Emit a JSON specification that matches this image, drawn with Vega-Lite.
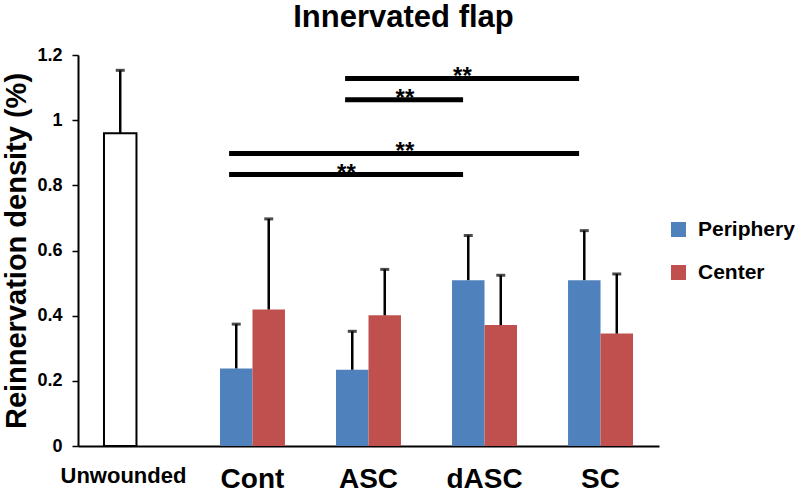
{
  "$schema": "https://vega.github.io/schema/vega-lite/v6.json",
  "width": 581,
  "height": 391,
  "autosize": "none",
  "padding": {"left": 78, "top": 55, "right": 141, "bottom": 47},
  "background": "white",
  "config": {"font": "Liberation Sans", "view": {"stroke": null}, "axis": {"grid": false}},
  "title": {"text": "Innervated flap", "fontSize": 31, "fontWeight": "bold", "color": "black", "anchor": "middle", "dx": 35, "offset": 12},
  "datasets": {
    "bars": [
      {"group": "Unwounded", "region": "Periphery", "kind": "unwounded", "value": 0.96, "err": 1.153},
      {"group": "Cont", "region": "Periphery", "kind": "wounded", "value": 0.238, "err": 0.374},
      {"group": "Cont", "region": "Center", "kind": "wounded", "value": 0.419, "err": 0.697},
      {"group": "ASC", "region": "Periphery", "kind": "wounded", "value": 0.234, "err": 0.352},
      {"group": "ASC", "region": "Center", "kind": "wounded", "value": 0.401, "err": 0.542},
      {"group": "dASC", "region": "Periphery", "kind": "wounded", "value": 0.509, "err": 0.646},
      {"group": "dASC", "region": "Center", "kind": "wounded", "value": 0.371, "err": 0.524},
      {"group": "SC", "region": "Periphery", "kind": "wounded", "value": 0.509, "err": 0.661},
      {"group": "SC", "region": "Center", "kind": "wounded", "value": 0.345, "err": 0.528}
    ],
    "sig": [
      {"from": "Cont", "to": "dASC", "y": 0.833, "label": "**", "mid": "ASC", "midType": "inband"},
      {"from": "Cont", "to": "SC", "y": 0.898, "label": "**", "mid": "ASC", "midType": "gap"},
      {"from": "ASC", "to": "dASC", "y": 1.063, "label": "**", "mid": "ASC", "midType": "gap"},
      {"from": "ASC", "to": "SC", "y": 1.128, "label": "**", "mid": "dASC", "midType": "inband"}
    ]
  },
  "layer": [
    {
      "data": {"name": "bars"},
      "mark": {"type": "bar", "strokeWidth": 2},
      "encoding": {
        "x": {
          "field": "group", "type": "nominal",
          "scale": {"domain": ["Unwounded", "Cont", "ASC", "dASC", "SC"], "paddingInner": 0.44, "paddingOuter": 0.224},
          "axis": {
            "title": null, "ticks": false, "labelAngle": 0, "labelPadding": 19,
            "labelFontWeight": "bold", "labelColor": "black",
            "labelFontSize": {"condition": {"test": "datum.value === 'Unwounded'", "value": 22}, "value": 28},
            "labelOffset": {"condition": {"test": "datum.value === 'Unwounded'", "value": -13}, "value": 0},
            "domainColor": "black", "domainWidth": 2
          }
        },
        "xOffset": {"field": "region", "type": "nominal", "scale": {"domain": ["Periphery", "Center"], "paddingInner": 0, "paddingOuter": 0}},
        "y": {
          "field": "value", "type": "quantitative",
          "scale": {"domain": [0, 1.2], "nice": false},
          "axis": {
            "title": "Reinnervation density (%)", "titleFontSize": 29, "titleFontWeight": "bold", "titleColor": "black", "titlePadding": 5,
            "values": [0, 0.2, 0.4, 0.6, 0.8, 1, 1.2], "format": "~g",
            "labelFontSize": 18, "labelFontWeight": "bold", "labelColor": "black", "labelPadding": 10,
            "tickSize": 6, "tickColor": "black", "tickWidth": 1.5,
            "domainColor": "black", "domainWidth": 2
          }
        },
        "color": {
          "condition": {"test": "datum.kind === 'unwounded'", "value": "white"},
          "field": "region", "type": "nominal",
          "scale": {"domain": ["Periphery", "Center"], "range": ["#4F81BD", "#C0504D"]},
          "legend": {
            "title": null, "orient": "none", "legendX": 590, "legendY": 164, "padding": 0,
            "symbolType": "square", "symbolSize": 225, "symbolStrokeWidth": 0,
            "labelFontSize": 21, "labelFontWeight": "bold", "labelColor": "black",
            "rowPadding": 21, "labelOffset": 9
          }
        },
        "stroke": {"condition": {"test": "datum.kind === 'unwounded'", "value": "black"}, "value": "transparent"}
      }
    },
    {
      "data": {"name": "bars"},
      "mark": {"type": "rule", "color": "black", "strokeWidth": 2.5},
      "encoding": {
        "x": {"field": "group", "type": "nominal"},
        "xOffset": {"field": "region", "type": "nominal"},
        "y": {"field": "value", "type": "quantitative"},
        "y2": {"field": "err"}
      }
    },
    {
      "data": {"name": "bars"},
      "mark": {"type": "tick", "color": "black", "size": 9, "thickness": 3, "orient": "horizontal"},
      "encoding": {
        "x": {"field": "group", "type": "nominal"},
        "xOffset": {"field": "region", "type": "nominal"},
        "y": {"field": "err", "type": "quantitative"}
      }
    },
    {
      "data": {"name": "sig"},
      "mark": {"type": "rule", "color": "black", "strokeWidth": 5},
      "encoding": {
        "x": {"field": "from", "type": "nominal", "bandPosition": 0.14},
        "x2": {"field": "to", "bandPosition": 0.17},
        "y": {"field": "y", "type": "quantitative"}
      }
    },
    {
      "data": {"name": "sig"},
      "transform": [{"filter": "datum.midType === 'inband'"}],
      "mark": {"type": "text", "fontSize": 24, "fontWeight": "bold", "color": "black", "baseline": "alphabetic", "dy": 6},
      "encoding": {
        "x": {"field": "mid", "type": "nominal", "bandPosition": 0.16},
        "y": {"field": "y", "type": "quantitative"},
        "text": {"field": "label"}
      }
    },
    {
      "data": {"name": "sig"},
      "transform": [{"filter": "datum.midType === 'gap'"}],
      "mark": {"type": "text", "fontSize": 24, "fontWeight": "bold", "color": "black", "baseline": "alphabetic", "dy": 6},
      "encoding": {
        "x": {"field": "mid", "type": "nominal", "bandPosition": 1.06},
        "y": {"field": "y", "type": "quantitative"},
        "text": {"field": "label"}
      }
    }
  ]
}
